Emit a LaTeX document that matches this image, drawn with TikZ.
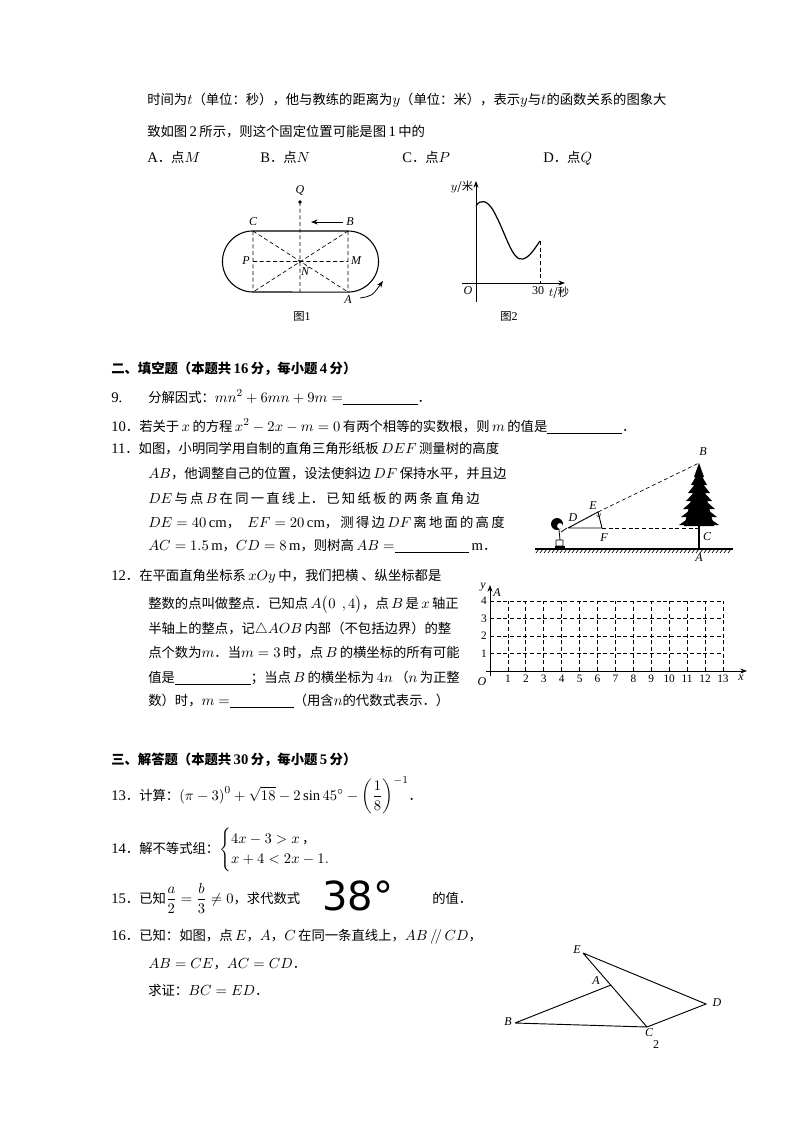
\documentclass[tikz,border=0pt]{standalone}
\usepackage{amsmath}
\usepackage{fontspec}
\setmainfont{Liberation Serif}
\newfontfamily\cjk{Noto Sans CJK SC}
\newfontfamily\bigsans{DejaVu Sans}
\usetikzlibrary{arrows.meta}
\newcommand\zh[1]{{\cjk\fontsize{10}{12}\selectfont #1}}
\newcommand\blank[1][55pt]{\rule[-2pt]{#1}{0.5pt}}
\begin{document}
\begin{tikzpicture}[x=0.75pt,y=-0.75pt,
  txt/.style={anchor=base west,inner sep=0pt,font=\fontsize{11}{13}\selectfont},
  lbl/.style={inner sep=0pt,font=\fontsize{9}{10}\selectfont\itshape},
  dsh/.style={dashed,dash pattern=on 3pt off 2pt,line width=0.5pt},
  solid line/.style={line width=0.8pt},
  arr/.style={-{Stealth[length=5pt]},line width=0.6pt}]
\useasboundingbox (0,0) rectangle (800,1132);
\fill[white] (0,0) rectangle (800,1132);

% ---- top text
\node[txt] (l1) at (147,104) {\zh{时间为}$t$\zh{（单位：秒），他与教练的距离为}$y$\zh{（单位：米），表示}$y$\zh{与}$t$\zh{的函数关系的图象大}};
\node[txt] (l2) at (147,136) {\zh{致如图}\,2\,\zh{所示，则这个固定位置可能是图}\,1\,\zh{中的}};
\node[txt] (oa) at (147,162) {A\zh{．点}$M$};
\node[txt] (ob) at (260,162) {B\zh{．点}$N$};
\node[txt] (oc) at (402,162) {C\zh{．点}$P$};
\node[txt] (od) at (543,162) {D\zh{．点}$Q$};

% ---- figure 1
\coordinate (C) at (253,231); \coordinate (B) at (348,231);
\coordinate (A) at (348,292); \coordinate (BL) at (253,292);
\coordinate (N) at (300,261.5); \coordinate (P) at (253,261.5); \coordinate (M) at (348,261.5);
\coordinate (Q) at (300,202); \coordinate (Qb) at (300,292);
\draw[solid line] (C) -- (B) arc[start angle=90,end angle=-90,radius=22.9pt] -- (BL) arc[start angle=270,end angle=90,radius=22.9pt];
\draw[dsh] (C) -- (A) (B) -- (BL) (C) -- (BL) (B) -- (A) (P) -- (M) (Q) -- (Qb);
\fill (Q) circle (1.4pt);
\fill (N) circle (1pt);
\coordinate (ab1) at (343,222); \coordinate (ab2) at (311,222);
\draw[arr] (ab1) -- (ab2);
\coordinate (ca1) at (360,298); \coordinate (ca2) at (383,281);
\draw[arr] (ca1) .. controls (372,296) .. (ca2);
\node[lbl] (lQ) at (300,190) {Q};
\node[lbl] (lC) at (253,222) {C};
\node[lbl] (lB) at (350,222) {B};
\node[lbl] (lP) at (246,261) {P};
\node[lbl] (lM) at (356,261) {M};
\node[lbl] (lN) at (305,272) {N};
\node[lbl] (lA) at (348,300) {A};
\node[inner sep=0pt] (cap1) at (302,316) {\zh{\fontsize{8.5}{9}\selectfont 图}{\fontsize{9}{9}\selectfont 1}};

% ---- figure 2
\coordinate (O2) at (476,283);
\coordinate (yt) at (476,181); \coordinate (yb) at (476,302);
\coordinate (xl) at (462,283); \coordinate (xr) at (565,283);
\draw[arr] (yb) -- (yt);
\draw[arr] (xl) -- (xr);
\coordinate (cs) at (476,206); \coordinate (ce) at (540,241); \coordinate (ceb) at (540,283);
\draw[line width=0.9pt] (cs) .. controls (480,199) and (487,200) .. (493,210)
  .. controls (506,233) and (512,262) .. (523,259) .. controls (530,257) and (535,248) .. (ce);
\draw[dsh] (ce) -- (ceb);
\node[inner sep=0pt] (ly) at (462,187) {\fontsize{9}{9}\selectfont$y$\zh{\fontsize{8.5}{9}\selectfont /米}};
\node[lbl] (lO2) at (468,291) {O};
\node[inner sep=0pt] (l30) at (538,291) {\fontsize{9}{9}\selectfont 30};
\node[inner sep=0pt] (lt) at (559,293) {\fontsize{9}{9}\selectfont$t$\zh{\fontsize{8.5}{9}\selectfont /秒}};
\node[inner sep=0pt] (cap2) at (509,316) {\zh{\fontsize{8.5}{9}\selectfont 图}{\fontsize{9}{9}\selectfont 2}};

% ---- section 2
\node[txt] (h2) at (111,373) {\zh{\bfseries 二、填空题（本题共}\,\textbf{16}\,\zh{\bfseries 分，每小题}\,\textbf{4}\,\zh{\bfseries 分）}};
\node[txt] (q9) at (111,402) {9.};
\node[txt] (q9b) at (148,402) {\zh{分解因式：}$mn^2+6mn+9m=$\blank[56pt]\zh{．}};
\node[txt] (q10) at (111,431) {10\zh{．若关于}\,$x$\,\zh{的方程}\,$x^2-2x-m=0$\,\zh{有两个相等的实数根，则}\,$m$\,\zh{的值是}\blank[56pt]\zh{．}};

\node[txt] (q11a) at (111,453) {11\zh{．如图，小明同学用自制的直角三角形纸板}\,$DEF$\,\zh{测量树的高度}};
\node[txt] (q11b) at (148,478) {$AB$\zh{，他调整自己的位置，设法使斜边}\,$DF$\,\zh{保持水平，并且边}};
\node[txt] (q11c) at (148,503) {$DE$\zh{\,与\,点\,}$B$\zh{\,在\,同\,一\,直\,线\,上．\,已\,知\,纸\,板\,的\,两\,条\,直\,角\,边}};
\node[txt] (q11d) at (148,527) {$DE=40\,\mathrm{cm}$\zh{，}\ \ $EF=20\,\mathrm{cm}$\zh{，\,测\,得\,边}\,$DF$\zh{\,离\,地\,面\,的\,高\,度}};
\node[txt] (q11e) at (148,550) {$AC=1.5\,\mathrm{m}$\zh{，}$CD=8\,\mathrm{m}$\zh{，则树高}\,$AB=$\blank[56pt]\,m\zh{．}};

% ---- tree figure
\coordinate (g1) at (535,549); \coordinate (g2) at (733,549);
\draw[line width=0.8pt] (g1) -- (g2);
\foreach \i in {0,...,48} {\draw[line width=0.5pt] (536+4*\i,553) -- (539+4*\i,549);}
\coordinate (TB) at (699,463); \coordinate (TA) at (699,549);
\foreach \i/\w in {0/5,1/8,2/11,3/13,4/16,5/18,6/20} {
  \fill (699,463+\i*8) -- (699-\w,477+\i*8) -- (699+\w,477+\i*8) -- cycle;}
\fill (699,470) -- (684,526) -- (714,526) -- cycle;
\draw[line width=1.6pt] (699,515) -- (TA);
\coordinate (D) at (568,528); \coordinate (E) at (598,512); \coordinate (F) at (602,528);
\coordinate (Cc) at (699,528);
\draw[line width=0.7pt] (D) -- (E) -- (F) -- (D);
\draw[line width=0.4pt] (596.5,515.5) -- (599.5,517) -- (600.5,513.5);
\draw[dsh] (E) -- (TB);
\draw[dsh] (F) -- (Cc);
% kid
\fill (557,524) circle (4.5pt);
\fill[white] (560,526) circle (2.2pt);
\draw[line width=0.6pt] (559,530) -- (560,540) (556,540) rectangle (563,546) (567,528) -- (561,532);
\fill (555,546) rectangle (565,549);
\node[lbl] (lB2) at (703,452) {B};
\node[lbl] (lE) at (593,506) {E};
\node[lbl] (lD) at (573,518) {D};
\node[lbl] (lF) at (604,538) {F};
\node[lbl] (lC2) at (707,537) {C};
\node[lbl] (lA2) at (699,558) {A};

% ---- Q12
\node[txt] (q12a) at (111,580) {12\zh{．在平面直角坐标系}\,$xOy$\,\zh{中，我们把横 、纵坐标都是}};
\node[txt] (q12b) at (148,608) {\zh{整数的点叫做整点．已知点}\,$A\bigl(0\ \,,4\bigr)$\zh{，点}\,$B$\,\zh{是}\,$x$\,\zh{轴正}};
\node[txt] (q12c) at (148,633) {\zh{半轴上的整点，记}$\triangle AOB$\,\zh{内部（不包括边界）的整}};
\node[txt] (q12d) at (148,657) {\zh{点个数为}$m$\zh{．当}$m=3$\,\zh{时，点}\,$B$\,\zh{的横坐标的所有可能}};
\node[txt] (q12e) at (148,682) {\zh{值是}\blank[57pt]\zh{；当点}\,$B$\,\zh{的横坐标为}\,$4n$\,\zh{（}$n$\,\zh{为正整}};
\node[txt] (q12f) at (148,705) {\zh{数）时，}$m=$\blank[48pt]\zh{（用含}$n$\zh{的代数式表示．）}};

% ---- grid
\foreach \k in {1,...,13} {\draw[dsh,line width=0.6pt] (490+17.92*\k,671) -- (490+17.92*\k,601);
  \node[inner sep=0pt,font=\fontsize{8.5}{9}\selectfont] (gx\k) at (490+17.92*\k,679) {\k};}
\foreach \k in {1,...,4} {\draw[dsh,line width=0.6pt] (490,671-17.5*\k) -- (723,671-17.5*\k);
  \node[inner sep=0pt,font=\fontsize{8.5}{9}\selectfont] (gy\k) at (484,671-17.5*\k) {\k};}
\coordinate (gx0) at (486,671); \coordinate (gx1e) at (747,671);
\coordinate (gy0) at (490,676); \coordinate (gy1e) at (490,585);
\draw[arr,line width=0.7pt] (gx0) -- (gx1e);
\draw[arr,line width=0.7pt] (gy0) -- (gy1e);
\node[lbl] (gxl) at (741,678) {x};
\node[lbl] (gyl) at (483,587) {y};
\node[lbl] (gA) at (497,593) {A};
\node[lbl] (gO) at (482,682) {O};

% ---- section 3
\node[txt] (h3) at (111,764) {\zh{\bfseries 三、解答题（本题共}\,\textbf{30}\,\zh{\bfseries 分，每小题}\,\textbf{5}\,\zh{\bfseries 分）}};
\node[txt] (q13) at (111,800) {13\zh{．计算：}$\left(\pi-3\right)^0+\sqrt{18}-2\sin45^\circ-\left(\dfrac18\right)^{-1}$\zh{．}};
\node[txt] (q14) at (111,853) {14\zh{．解不等式组：}$\begin{cases}4x-3>x\,\text{\zh{，}}\\ x+4<2x-1.\end{cases}$};
\node[txt] (q15) at (111,903) {15\zh{．已知}$\dfrac a2=\dfrac b3\neq0$\zh{，求代数式}};
\node[anchor=base west,inner sep=0pt] (big) at (322,910) {\bigsans\fontsize{30}{30}\selectfont 38°};
\node[txt] (q15b) at (432,903) {\zh{的值．}};
\node[txt] (q16a) at (111,940) {16\zh{．已知：如图，点}\,$E$\zh{，}$A$\zh{，}$C$\,\zh{在同一条直线上，}$AB\,/\!/\,CD$\zh{，}};
\node[txt] (q16b) at (148,968) {$AB=CE$\zh{，}$AC=CD$\zh{．}};
\node[txt] (q16c) at (148,995) {\zh{求证：}$BC=ED$\zh{．}};

% ---- triangle figure
\coordinate (tE) at (583,953); \coordinate (tA) at (611,985); \coordinate (tB) at (515,1023);
\coordinate (tC) at (647,1027); \coordinate (tD) at (706,1004);
\draw[line width=0.7pt] (tE) -- (tC) -- (tD) -- (tE) (tB) -- (tC) (tB) -- (tA);
\node[lbl] (lE3) at (577,950) {E};
\node[lbl] (lA3) at (596,981) {A};
\node[lbl] (lB3) at (508,1022) {B};
\node[lbl] (lC3) at (649,1033) {C};
\node[inner sep=0pt,font=\fontsize{9}{10}\selectfont] (pg) at (656,1045) {2};
\node[lbl] (lD3) at (717,1003) {D};
\end{tikzpicture}
\end{document}
